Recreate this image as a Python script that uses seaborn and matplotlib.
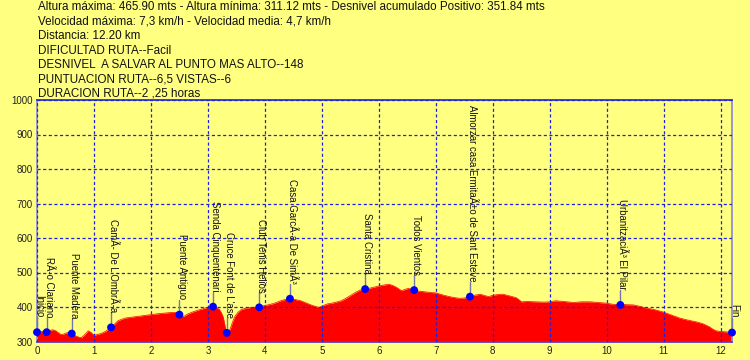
import matplotlib
matplotlib.use("Agg")
import matplotlib.pyplot as plt
import seaborn as sns
import numpy as np

# ---------------- data ----------------
header_lines = [
    "Altura máxima: 465.90 mts - Altura mínima: 311.12 mts - Desnivel acumulado Positivo: 351.84 mts",
    "Velocidad máxima: 7,3 km/h - Velocidad media: 4,7 km/h",
    "Distancia: 12.20 km",
    "DIFICULTAD RUTA--Facil",
    "DESNIVEL  A SALVAR AL PUNTO MAS ALTO--148",
    "PUNTUACION RUTA--6,5 VISTAS--6",
    "DURACION RUTA--2 ,25 horas",
]

dist_km = [0.00, 0.05, 0.12, 0.17, 0.22, 0.28, 0.33, 0.40, 0.45, 0.50, 0.55, 0.61,
           0.68, 0.74, 0.78, 0.84, 0.90, 0.95, 1.00, 1.05, 1.10, 1.15, 1.21, 1.26,
           1.30, 1.36, 1.42, 1.48, 1.55, 1.64, 1.72, 1.82, 1.90, 2.00, 2.10, 2.22,
           2.35, 2.46, 2.50, 2.57, 2.65, 2.74, 2.85, 2.95, 3.00, 3.09, 3.15, 3.20,
           3.24, 3.27, 3.30, 3.33, 3.36, 3.39, 3.43, 3.47, 3.53, 3.59, 3.68, 3.77,
           3.90, 3.98, 4.05, 4.15, 4.28, 4.36, 4.44, 4.52, 4.63, 4.72, 4.81, 4.90,
           4.96, 5.02, 5.10, 5.20, 5.34, 5.42, 5.52, 5.60, 5.67, 5.76, 5.85, 5.93,
           6.00, 6.10, 6.18, 6.25, 6.32, 6.40, 6.46, 6.52, 6.62, 6.70, 6.81, 6.90,
           7.00, 7.10, 7.19, 7.30, 7.42, 7.50, 7.60, 7.68, 7.78, 7.86, 7.93, 8.00,
           8.08, 8.18, 8.30, 8.41, 8.47, 8.50, 8.60, 8.77, 8.90, 9.00, 9.10, 9.25,
           9.42, 9.55, 9.71, 9.85, 10.00, 10.10, 10.24, 10.30, 10.47, 10.58, 10.70,
           10.85, 11.00, 11.10, 11.20, 11.28, 11.40, 11.57, 11.68, 11.80, 11.86,
           11.92, 12.00, 12.10, 12.20]
elev_m = [327, 328, 330, 327, 332, 334, 331, 322, 320, 324, 326, 323,
          316, 312, 311, 320, 331, 326, 318, 320, 322, 325, 330, 336,
          341, 350, 360, 364, 368, 370, 372, 374, 376, 378, 380, 382,
          384, 384, 378, 372, 380, 386, 392, 397, 399, 401, 398, 393,
          382, 370, 345, 325, 328, 336, 355, 372, 385, 393, 397, 399,
          399, 404, 406, 410, 418, 422, 424, 422, 418, 412, 406, 401,
          399, 404, 409, 412, 418, 425, 435, 443, 449, 452, 455, 458,
          461, 464, 465.9, 462, 456, 447, 451, 454, 449, 446, 444, 442,
          441, 436, 432, 428, 425, 426, 430, 434, 437, 433, 430, 434,
          436, 437, 432, 427, 420, 415, 416, 415, 414, 415, 418, 416,
          413, 415, 415, 413, 411, 408, 406, 407, 406, 402, 397,
          392, 385, 379, 373, 368, 363, 357, 352, 343, 336,
          331, 329, 328, 326]

wp_names = ["Inicio", "RÃ\u00ado Clariano", "Puente Madera", "CamÃ\u00ad De L'OmbrÃ\u00ada",
            "Puente Antiguo", "Senda Cinquentenari", "Cruce Font de L'ase",
            "Club Tenis Helios", "Casa GarcÃ\u00ada De SimÃ³", "Santa Cristina",
            "Todos Vientos", "Almorzar casa ErmitaÃ±o de Sant Esteve",
            "UrbanitzaciÃ³ El Pilar", "Fin"]
wp_dist = [0.00, 0.17, 0.61, 1.30, 2.50, 3.09, 3.33, 3.90, 4.44, 5.76, 6.62, 7.60, 10.24, 12.20]
wp_elev = [327, 327, 323, 341, 378, 401, 325, 399, 424, 452, 449, 430, 406, 326]

x_ticks = list(range(0, 13))
y_ticks = list(range(300, 1001, 100))

# ---------------- style ----------------
sns.set_style("white")
plt.rcParams['font.family'] = ['Liberation Sans', 'DejaVu Sans']

BG = "#FFFF80"
W, H = 750, 360
fig = plt.figure(figsize=(W / 100, H / 100), dpi=100, facecolor=BG)
ax_l, ax_r, ax_t, ax_b = 37, 732, 100, 341.5
ax = fig.add_axes([ax_l / W, (H - ax_b) / H, (ax_r - ax_l) / W, (ax_b - ax_t) / H])
ax.set_facecolor(BG)

ax.fill_between(dist_km, elev_m, 300, color="#FF0000", linewidth=0, zorder=2)
sns.lineplot(x=dist_km, y=elev_m, ax=ax, color="#FF2000", linewidth=0.6, zorder=2)

ax.set_xlim(0, 12.2)
ax.set_ylim(300, 1000)
ax.set_xticks(x_ticks)
ax.set_yticks(y_ticks)
ax.grid(True, color="#2020E0", linestyle=(0, (2.5, 2)), linewidth=0.9, zorder=3)
ax.set_axisbelow(False)
ax.tick_params(axis="both", labelsize=7, colors="#222222", length=2, pad=1,
               width=0.8)
ax.set_xlabel("")
ax.set_ylabel("")

for side, col in [("top", "#3030D0"), ("bottom", "#6040C0"), ("left", "#9090D0"), ("right", "#9090D0")]:
    ax.spines[side].set_color(col)
    ax.spines[side].set_linewidth(1.3)
    ax.spines[side].set_visible(True)

# stems and labels
stem_px = 15
for name, x, y in zip(wp_names, wp_dist, wp_elev):
    y_top = ax.transData.inverted().transform(
        ax.transData.transform((x, y)) + np.array([0, stem_px]))[1]
    ax.plot([x, x], [y, y_top], color="#7878A8", linewidth=1.0, zorder=4, clip_on=False)
    ax.annotate(name, xy=(x, y_top), xytext=(1.5, 0), textcoords="offset points",
                rotation=-90, ha="center", va="bottom", fontsize=6.9,
                color="#111111", zorder=6, annotation_clip=False)

sns.scatterplot(x=wp_dist, y=wp_elev, ax=ax, color="#0000FF", s=32,
                edgecolor="none", zorder=5, clip_on=False, legend=False)

# header text
for i, line in enumerate(header_lines):
    fig.text(38 / W, 1 - (7.5 + i * 14.4) / H, line, fontsize=8.4, color="#111111",
             va="center", ha="left")

fig.savefig("out.png", dpi=100, facecolor=BG)
